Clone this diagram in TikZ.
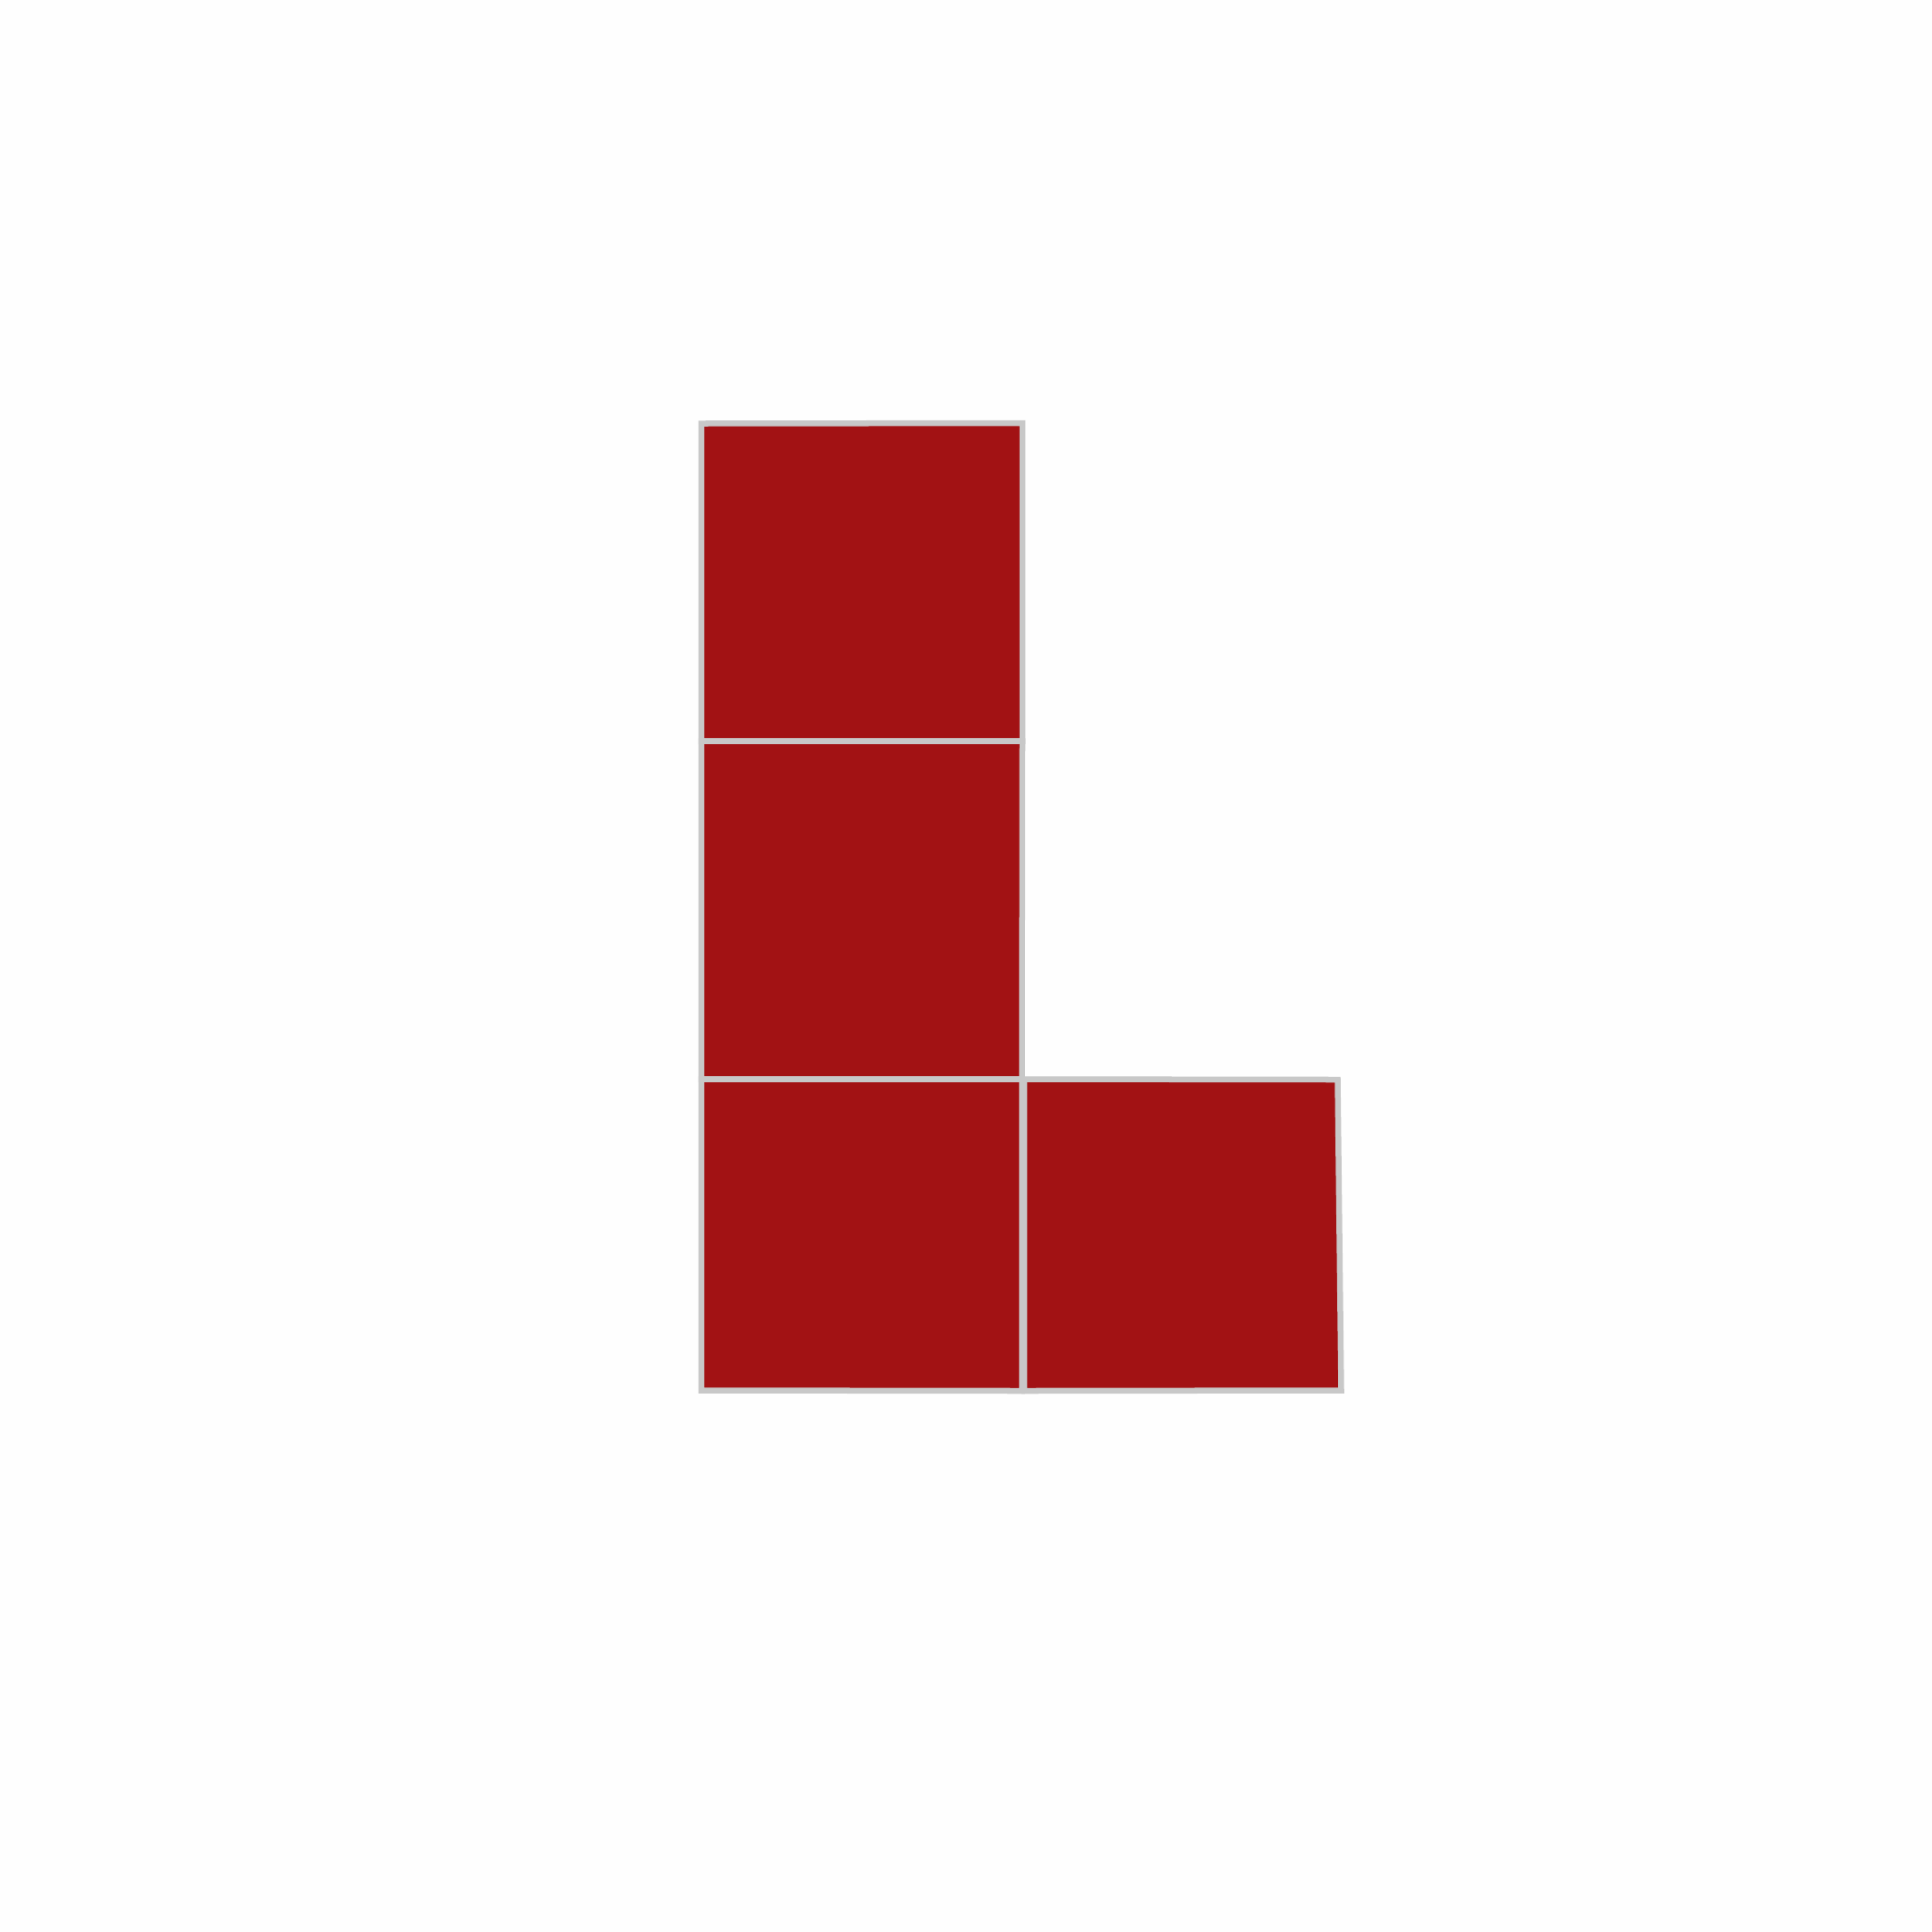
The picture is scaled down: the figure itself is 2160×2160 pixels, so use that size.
\documentclass[tikz,border=0pt]{standalone}
\definecolor{tilered}{HTML}{A21214}
\definecolor{tileedge}{HTML}{C8C8C8}
\definecolor{bgwhite}{HTML}{FEFEFE}
\tikzset{tile/.style={fill=tilered,draw=tileedge,line width=0.065cm,line join=miter}}
\begin{document}
\begin{tikzpicture}[x=0.01cm,y=-0.01cm]
\fill[bgwhite] (0,0) rectangle (2160,2160);
\useasboundingbox (0,0) rectangle (2160,2160);
% top square
\draw[tile] (784,473.5) -- (1143,473) -- (1143,828.5) -- (784,828.5) -- cycle;
% middle square
\draw[tile] (784,828.5) -- (1143,828.5) -- (1142.5,1206.5) -- (784,1206.5) -- cycle;
% bottom-left square
\draw[tile] (784,1206.5) -- (1142.5,1206.5) -- (1142.5,1555) -- (784,1554.5) -- cycle;
% bottom-right square
\draw[tile] (1145,1206.5) -- (1495.5,1207) -- (1499.5,1554.5) -- (1145,1555) -- cycle;
\end{tikzpicture}
\end{document}
